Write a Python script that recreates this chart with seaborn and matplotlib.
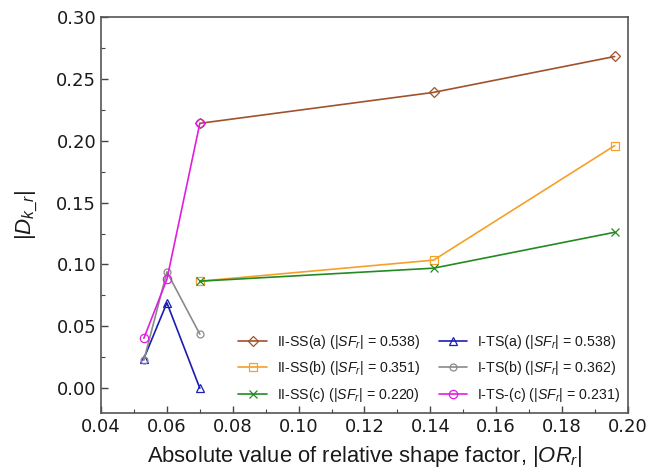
import matplotlib
matplotlib.use("Agg")
import matplotlib.pyplot as plt
import seaborn as sns
import pandas as pd
from matplotlib.ticker import MultipleLocator, FormatStrFormatter

sns.set_theme(style="white")
plt.rcParams["font.family"] = ["DejaVu Sans"]
plt.rcParams["mathtext.fontset"] = "custom"
plt.rcParams["mathtext.rm"] = "Liberation Sans"
plt.rcParams["mathtext.it"] = "Liberation Sans:italic"

# Relative shape factor |OR_r| and resulting |D_k_r| per specimen series
x_ss = [0.070, 0.141, 0.196]
x_ts = [0.053, 0.060, 0.070]

ss_a = [0.214, 0.239, 0.268]
ss_b = [0.0865, 0.1035, 0.196]
ss_c = [0.0865, 0.097, 0.126]
ts_a = [0.024, 0.069, 0.000]
ts_b = [0.0226, 0.094, 0.0437]
ts_c = [0.0404, 0.088, 0.214]

labels = [
    r"II-SS(a) ($|SF_r|$ = 0.538)",
    r"II-SS(b) ($|SF_r|$ = 0.351)",
    r"II-SS(c) ($|SF_r|$ = 0.220)",
    r"I-TS(a) ($|SF_r|$ = 0.538)",
    r"I-TS(b) ($|SF_r|$ = 0.362)",
    r"I-TS-(c) ($|SF_r|$ = 0.231)",
]

series = [
    (x_ss, ss_a, "#a0522d", "D", 5.0),
    (x_ss, ss_b, "#f5a028", "s", 5.5),
    (x_ss, ss_c, "#228b22", "x", 6.0),
    (x_ts, ts_a, "#1c1cb4", "^", 6.0),
    (x_ts, ts_b, "#8a8a8a", "o", 5.0),
    (x_ts, ts_c, "#e01ee0", "o", 6.0),
]

fig = plt.figure(figsize=(6.52, 4.75), dpi=100)
ax = fig.add_axes([0.155, 0.1305, 0.808, 0.834])

for (xs, ys, col, mk, ms), lab in zip(series, labels):
    df = pd.DataFrame({"x": xs, "y": ys})
    sns.lineplot(data=df, x="x", y="y", ax=ax, color=col, marker=mk,
                 markersize=ms, markerfacecolor="none",
                 markeredgecolor=col, markeredgewidth=0.9, linewidth=1.2,
                 sort=False, label=lab)

ax.set_xlim(0.04, 0.20)
ax.set_ylim(-0.02, 0.30)
ax.xaxis.set_major_locator(MultipleLocator(0.02))
ax.xaxis.set_minor_locator(MultipleLocator(0.01))
ax.yaxis.set_major_locator(MultipleLocator(0.05))
ax.yaxis.set_minor_locator(MultipleLocator(0.025))
ax.xaxis.set_major_formatter(FormatStrFormatter("%.2f"))
ax.yaxis.set_major_formatter(FormatStrFormatter("%.2f"))
ax.tick_params(axis="both", which="major", direction="in", length=5, width=1,
               labelsize=13, color="#444444", labelcolor="#1a1a1a",
               bottom=True, left=True)
ax.tick_params(axis="both", which="minor", direction="in", length=3, width=0.8,
               color="#444444", bottom=True, left=True)

for sp in ax.spines.values():
    sp.set_color("#555555")
    sp.set_linewidth(1.2)

ax.set_xlabel(r"Absolute value of relative shape factor, $|OR_r|$",
              fontsize=15.8, family="Liberation Sans", color="#1a1a1a", labelpad=6)
ax.set_ylabel(r"$|D_{k\_r}|$", fontsize=16, family="Liberation Sans",
              color="#1a1a1a", labelpad=12)

leg = ax.legend(loc="lower right", ncol=2, frameon=False,
                prop={"family": "Liberation Sans", "size": 10.2},
                columnspacing=1.3, handlelength=2.0, handletextpad=0.7,
                borderpad=0.3, labelspacing=0.6,
                bbox_to_anchor=(1.006, -0.005))
for t in leg.get_texts():
    t.set_color("#1a1a1a")

fig.savefig("out.png", dpi=100)
